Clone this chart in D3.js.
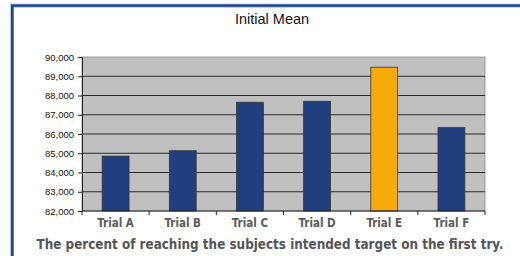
<!DOCTYPE html>
<html>
<head>
<meta charset="utf-8">
<script src="https://cdn.jsdelivr.net/npm/d3@7"></script>
<style>
  body { margin: 0; background: #fff; }
  svg { display: block; }
</style>
</head>
<body>
<svg id="chart" width="520" height="256"></svg>
<script>
var width = 520, height = 256;
var trials = ["Trial A", "Trial B", "Trial C", "Trial D", "Trial E", "Trial F"];
var means = [84850, 85130, 87650, 87700, 89470, 86330];
var highlight = ["Trial E"];
var yTicks = [82000, 83000, 84000, 85000, 86000, 87000, 88000, 89000, 90000];

var margin = {left: 82, right: 35, top: 57, bottom: 45};

var x = d3.scaleBand()
        .domain(trials)
        .range([margin.left, width - margin.right])
        .paddingInner(0.6)
        .paddingOuter(0.3);

var y = d3.scaleLinear()
        .domain([82000, 90000])
        .range([height - margin.bottom, margin.top]);

var svg = d3.select("#chart");

// frame
svg.append("path")
        .attr("d", "M12.2,260 V5.6 H524")
        .attr("fill", "none")
        .attr("stroke", "#8aa3c8")
        .attr("stroke-width", 3.6);
svg.append("path")
        .attr("d", "M12.2,260 V5.6 H524")
        .attr("fill", "none")
        .attr("stroke", "#1e4787")
        .attr("stroke-width", 2.4);

svg.append("text")
        .attr("x", 272)
        .attr("y", 24)
        .attr("text-anchor", "middle")
        .style("font-family", "'Liberation Sans', Arial, sans-serif")
        .style("font-size", "14.5px")
        .style("fill", "#111")
        .text("Initial Mean");

// plot background
svg.append("rect")
        .attr("x", margin.left)
        .attr("y", margin.top)
        .attr("width", width - margin.right - margin.left)
        .attr("height", y(82000) - margin.top)
        .attr("fill", "#c0c0c0")
        .attr("stroke", "#8a8a8a")
        .attr("stroke-width", 0.8);

// gridlines
svg.selectAll(".grid")
        .data(yTicks.slice(1, -1))
        .enter().append("line")
        .attr("class", "grid")
        .attr("x1", margin.left)
        .attr("x2", width - margin.right)
        .attr("y1", function (d) { return y(d); })
        .attr("y2", function (d) { return y(d); })
        .attr("stroke", "#2a2a2a")
        .attr("stroke-width", 1.2);

svg.selectAll(".bar")
        .data(trials)
        .enter().append("rect")
        .attr("class", "bar")
        .attr("x", function (d) { return x(d); })
        .attr("width", x.bandwidth())
        .attr("y", function (d, i) { return y(means[i]); })
        .attr("height", function (d, i) { return y(82000) - y(means[i]); })
        .attr("fill", function (d) { return highlight.indexOf(d) >= 0 ? "#f7ab0a" : "#213f7f"; })
        .attr("stroke", "#333")
        .attr("stroke-width", 0.8);

var yAxis = d3.axisLeft(y)
        .tickValues(yTicks)
        .tickSize(4)
        .tickPadding(4)
        .tickFormat(d3.format(","));

var gy = svg.append("g")
        .attr("transform", "translate(" + margin.left + ",0)")
        .call(yAxis);
gy.attr("font-size", null).attr("font-family", null);
gy.select(".domain").attr("stroke", "#222");
gy.selectAll("line").attr("stroke", "#222");
gy.selectAll("text")
        .style("font-family", "'Liberation Sans', Arial, sans-serif")
        .style("font-size", "9.5px")
        .style("fill", "#111");

// x axis: ticks at category boundaries
var step = x.step();
var bounds = d3.range(trials.length + 1).map(function (i) { return margin.left + i * step; });
var gx = svg.append("g");
gx.append("line")
        .attr("x1", margin.left)
        .attr("x2", width - margin.right)
        .attr("y1", y(82000))
        .attr("y2", y(82000))
        .attr("stroke", "#222");
gx.selectAll(".xt")
        .data(bounds)
        .enter().append("line")
        .attr("class", "xt")
        .attr("x1", function (d) { return d; })
        .attr("x2", function (d) { return d; })
        .attr("y1", y(82000))
        .attr("y2", y(82000) + 4)
        .attr("stroke", "#222");
gx.selectAll(".xl")
        .data(trials)
        .enter().append("text")
        .attr("class", "xl")
        .attr("x", function (d) { return x(d) + x.bandwidth() / 2; })
        .attr("y", y(82000) + 16)
        .attr("text-anchor", "middle")
        .style("font-family", "'DejaVu Sans Condensed', 'DejaVu Sans', sans-serif")
        .style("font-weight", "bold")
        .style("font-size", "11.5px")
        .style("fill", "#5a5a5a")
        .text(function (d) { return d; });

svg.append("text")
        .attr("x", 270)
        .attr("y", 249)
        .attr("text-anchor", "middle")
        .attr("textLength", 467)
        .attr("lengthAdjust", "spacingAndGlyphs")
        .style("font-family", "'DejaVu Sans Condensed', 'DejaVu Sans', sans-serif")
        .style("font-weight", "bold")
        .style("font-size", "13.5px")
        .style("fill", "#555")
        .text("The percent of reaching the subjects intended target on the first try.");
</script>
</body>
</html>
